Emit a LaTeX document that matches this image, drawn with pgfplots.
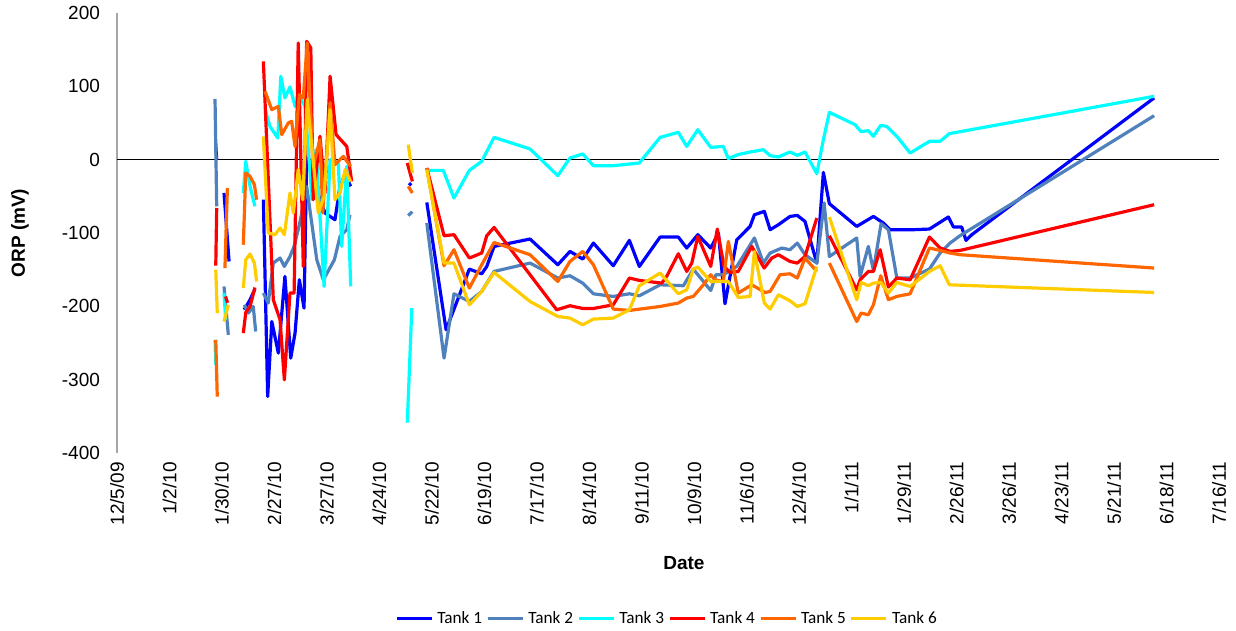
\documentclass[border=0pt]{standalone}
\usepackage{pgfplots}
\pgfplotsset{compat=1.18}
\usepackage{fontspec}
\setmainfont{Liberation Sans}
\newfontfamily\carlito{Carlito}
\definecolor{t1}{RGB}{0,0,255}
\definecolor{t2}{RGB}{79,129,189}
\definecolor{t3}{RGB}{0,255,255}
\definecolor{t4}{RGB}{255,0,0}
\definecolor{t5}{RGB}{255,102,0}
\definecolor{t6}{RGB}{255,204,0}
\begin{document}
\begin{tikzpicture}
\begin{axis}[
  scale only axis, width=551pt, height=220pt,
  xmin=0, xmax=588, ymin=-400, ymax=200,
  axis x line*=bottom, x axis line style={draw=none},
  axis y line*=left, y axis line style={draw=gray!70, line width=0.6pt, -},
  major tick length=0pt,
  xtick={0,28,...,588},
  xticklabels={12/5/09,1/2/10,1/30/10,2/27/10,3/27/10,4/24/10,5/22/10,6/19/10,7/17/10,8/14/10,9/11/10,10/9/10,11/6/10,12/4/10,1/1/11,1/29/11,2/26/11,3/26/11,4/23/11,5/21/11,6/18/11,7/16/11},
  xticklabel style={rotate=90, anchor=east, font=\fontsize{9.5}{11}\selectfont, xshift=-1pt},
  ytick={-400,-300,-200,-100,0,100,200},
  yticklabels={-400,-300,-200,-100,0,100,200},
  yticklabel style={font=\fontsize{9.5}{11}\selectfont, xshift=-5pt},
  extra y ticks={0}, extra y tick labels={},
  extra y tick style={grid=major, major grid style={black, line width=0.6pt}},
  xlabel={\textbf{Date}}, ylabel={\textbf{ORP (mV)}},
  xlabel style={at={(axis description cs:0.5145,-0.25)}, anchor=center, font=\fontsize{9.5}{11}\selectfont},
  ylabel style={at={(axis description cs:-0.088,0.5)}, anchor=center, font=\fontsize{9.5}{11}\selectfont},
  unbounded coords=jump,
  every axis plot/.append style={line width=1.6pt, line join=round, mark=none},
  legend style={at={(axis description cs:0.5,-0.377)}, anchor=center, draw=none,
    font=\carlito\fontsize{8.6}{10}\selectfont, legend columns=6,
    /tikz/every even column/.append style={column sep=0pt},
    nodes={inner xsep=2pt},
    inner sep=0pt},
  legend image code/.code={\draw[#1, line width=1.6pt] (0pt,0pt) -- (17.5pt,0pt);},
]
\addplot[t1] coordinates {
(52.6,22.8) (53.2,0) (53.2,nan)
(57.1,-45.4) (59.8,-138.8) (59.8,nan)
(67.8,-204.7) (71.0,-191.0) (73.6,-176.4) (73.6,nan)
(78.1,-54.6) (80.4,-323.0) (82.6,-220.7) (86.1,-263.8) (89.6,-159.2) (92.7,-270.6) (95.0,-236.5) (97.3,-163.8) (99.8,-202.4) (101.2,4.5) (108.3,-54.6) (111.0,-72.7) (116.3,-81.9) (119.0,-36.4) (121.7,-20.5) (124.7,-36.4) (124.7,nan)
(155.8,-32) (157.0,-35) (157.0,nan)
(165.3,-58.3) (175.6,-232.0) (188.0,-149.2) (194.6,-155.6) (197.3,-145.6) (201.2,-118.3) (220.4,-108.2) (235.2,-143.3) (241.7,-125.1) (248.5,-135.5) (254.2,-113.7) (264.8,-144.6) (273.4,-110.1) (278.7,-145.6) (289.8,-105.5) (299.5,-105.5) (304.0,-120.5) (309.9,-102.3) (316.8,-120.5) (320.9,-100.0) (324.4,-196.5) (330.7,-109.2) (337.8,-91.0) (340.1,-75.1) (345.4,-70.5) (348.5,-95.5) (352.9,-88.7) (359.1,-77.4) (363.0,-76.0) (367.1,-84.2) (373.4,-141.0) (376.9,-17.3) (380.1,-60.0) (394.7,-91.0) (403.6,-77.4) (408.9,-86.4) (412.5,-95.5) (424.9,-95.5) (433.5,-94.6) (443.6,-78.2) (446.3,-91.8) (450.7,-91.8) (453.0,-110.1) (456.1,-102.3) (553.4,84.2)
};
\addlegendentry{Tank 1}
\addplot[t2] coordinates {
(52.3,82.8) (53.2,-63.7) (53.2,nan)
(57.1,-172.9) (59.4,-238.8) (59.4,nan)
(67.9,-197.9) (70.1,-209.2) (72.7,-200.2) (74.0,-234.3) (74.0,nan)
(78.1,-181.9) (80.7,-195.5) (83.4,-141.0) (87.0,-134.1) (89.3,-145.6) (92.3,-132.0) (94.5,-118.3) (97.1,-91.0) (99.4,-63.7) (101.2,-36.4) (106.6,-136.5) (110.1,-163.8) (116.0,-136.5) (119.0,-104.7) (122.6,-95.5) (124.3,-75.1) (124.3,nan)
(155.4,-76.4) (157.5,-70.9) (157.5,nan)
(165.3,-86.4) (174.5,-270.6) (179.8,-182.9) (188.0,-193.4) (194.6,-179.7) (201.2,-152.4) (220.4,-141.0) (235.2,-161.4) (241.7,-158.3) (248.5,-168.3) (254.2,-182.9) (264.8,-186.5) (273.4,-182.9) (278.7,-185.6) (289.8,-170.6) (302.2,-171.9) (307.5,-149.2) (316.8,-178.4) (319.6,-156.9) (323.5,-156.9) (330.7,-145.6) (340.1,-106.8) (344.9,-141.0) (348.5,-127.3) (354.7,-120.5) (359.1,-122.8) (363.0,-113.7) (367.1,-129.6) (373.4,-141.0) (377.3,-59.1) (380.1,-132.0) (394.7,-106.8) (396.5,-159.2) (400.9,-118.3) (403.6,-151.1) (407.7,-87.3) (411.6,-95.5) (416.1,-161.4) (423.2,-161.4) (433.5,-149.2) (439.2,-127.3) (444.5,-113.7) (449.8,-103.7) (553.4,60.0)
};
\addlegendentry{Tank 2}
\addplot[t3] coordinates {
(52.3,-245.6) (52.7,-279.7) (52.7,nan)
(57.1,-181.9) (58.0,-218.3) (58.0,nan)
(67.4,-45.4) (68.7,-2.3) (71.0,-36.4) (73.6,-63.7) (73.6,nan)
(79.0,68.2) (81.6,45.4) (85.8,29.6) (87.4,113.7) (89.6,84.2) (92.3,99.2) (95.0,72.7) (97.3,86.4) (100.3,72.7) (104.1,-54.6) (106.2,13.6) (110.5,-172.9) (113.7,0) (118.1,-4.5) (119.9,-118.3) (122.6,-9.1) (124.7,-172.9) (124.7,nan)
(154.9,-358.5) (157.3,-202.4) (157.3,nan)
(165.3,-14.6) (174.1,-14.6) (179.8,-52.3) (188.0,-14.6) (194.6,-2.3) (201.2,30.4) (220.4,14.6) (235.2,-21.8) (241.7,2.3) (248.5,7.8) (254.2,-8.2) (264.8,-8.2) (278.7,-4.5) (289.8,30.4) (299.5,37.3) (304.0,18.1) (309.9,40.9) (316.8,16.8) (323.5,18.1) (326.2,1.4) (331.2,6.8) (337.8,10.5) (344.9,13.6) (348.5,5.5) (352.9,3.7) (359.1,10.5) (363.0,5.9) (367.1,10.5) (373.4,-19.1) (376.9,27.3) (380.1,64.5) (393.8,47.8) (397.0,38.2) (400.9,39.6) (403.6,31.8) (407.5,46.8) (410.7,45.4) (416.1,31.8) (423.2,9.1) (433.5,25.0) (439.2,25.0) (444.1,35.5) (553.4,86.4)
};
\addlegendentry{Tank 3}
\addplot[t4] coordinates {
(52.7,-144.6) (53.2,-65.9) (53.2,nan)
(57.9,-186.5) (59.0,-195.1) (59.0,nan)
(67.4,-236.5) (68.7,-208.4) (71.0,-200.2) (73.6,-174.3) (73.6,nan)
(78.1,134.1) (83.4,-191.0) (87.0,-218.3) (89.3,-300.2) (92.3,-181.9) (94.5,-181.9) (96.7,159.2) (99.4,-145.6) (101.2,161.4) (103.4,152.4) (104.7,-54.6) (108.3,31.8) (111.0,-45.4) (113.7,113.7) (116.9,34.1) (122.6,18.1) (125.2,-29.6) (125.2,nan)
(154.9,-4.5) (157.6,-29.6) (157.6,nan)
(165.3,-11.3) (174.5,-103.7) (179.8,-102.3) (188.0,-134.1) (194.6,-127.3) (197.3,-103.7) (201.2,-92.4) (234.6,-204.7) (241.7,-199.2) (248.5,-202.9) (254.2,-202.9) (264.8,-197.9) (273.4,-161.4) (278.7,-164.7) (290.7,-168.3) (293.3,-159.2) (299.5,-128.3) (304.0,-152.4) (306.7,-141.0) (309.9,-104.7) (316.8,-145.6) (320.3,-94.6) (323.9,-145.6) (327.1,-153.8) (331.5,-152.4) (338.7,-118.3) (345.3,-147.8) (349.4,-134.1) (352.9,-129.6) (359.1,-138.8) (363.0,-141.0) (367.1,-132.0) (373.4,-79.6) (373.4,nan)
(380.1,-103.7) (394.7,-177.4) (396.5,-163.8) (400.9,-152.4) (403.6,-152.4) (407.2,-122.8) (411.6,-173.7) (416.1,-161.4) (423.2,-163.8) (433.5,-105.5) (439.2,-120.5) (444.5,-125.1) (449.8,-123.8) (553.4,-61.4)
};
\addlegendentry{Tank 4}
\addplot[t5] coordinates {
(52.7,-245.6) (53.5,-323.0) (53.5,nan)
(57.6,-147.8) (58.9,-38.6) (58.9,nan)
(67.4,-116.0) (68.7,-18.1) (71.0,-22.8) (73.3,-34.1) (74.5,-54.6) (74.5,nan)
(79.0,93.2) (82.6,68.2) (86.1,72.7) (87.9,34.1) (91.4,50.1) (93.2,52.3) (95.0,18.1) (97.3,88.7) (99.4,84.2) (101.5,159.2) (104.7,-9.1) (108.3,27.3) (109.8,-72.7) (113.7,77.4) (116.3,-6.8) (120.8,4.5) (124.7,-9.1) (124.7,nan)
(155.4,-36.4) (157.6,-45.4) (157.6,nan)
(165.3,-11.3) (174.5,-144.6) (179.8,-122.8) (188.0,-175.1) (194.6,-143.3) (201.2,-112.9) (220.4,-129.6) (235.2,-166.1) (241.7,-138.8) (248.5,-125.1) (254.2,-143.3) (264.8,-203.7) (273.4,-205.6) (289.8,-200.2) (299.5,-195.5) (304.0,-188.7) (307.5,-186.5) (312.9,-170.6) (316.8,-156.9) (319.1,-163.8) (323.5,-166.1) (326.2,-111.5) (331.5,-181.9) (338.7,-170.6) (345.8,-181.1) (348.5,-179.7) (353.8,-156.9) (359.1,-155.6) (363.0,-161.4) (367.1,-134.1) (373.4,-152.4) (373.4,nan)
(380.1,-141.0) (394.7,-220.7) (397.0,-209.2) (400.9,-211.5) (403.6,-197.9) (407.5,-158.3) (411.6,-191.0) (416.1,-186.5) (423.2,-182.9) (433.5,-120.5) (439.2,-123.8) (444.5,-127.3) (449.8,-129.6) (553.4,-147.8)
};
\addlegendentry{Tank 5}
\addplot[t6] coordinates {
(52.7,-150.1) (53.5,-209.2) (53.5,nan)
(57.1,-220.7) (59.4,-197.9) (59.4,nan)
(67.4,-175.1) (68.7,-136.5) (71.0,-128.7) (73.3,-141.0) (74.5,-166.1) (74.5,nan)
(78.1,31.8) (80.7,-100.0) (84.3,-102.3) (87.0,-93.2) (89.3,-102.3) (92.3,-45.4) (94.1,-72.7) (96.7,-13.6) (99.1,-54.6) (101.5,81.9) (107.4,-72.7) (110.5,-50.0) (113.7,68.2) (116.3,-54.6) (119.0,-45.4) (121.7,-13.6) (124.7,-29.6) (124.7,nan)
(155.4,20.5) (157.6,-18.1) (157.6,nan)
(165.3,-13.6) (174.5,-141.0) (179.8,-141.0) (188.0,-197.9) (194.6,-179.7) (201.2,-153.8) (220.4,-193.4) (235.2,-213.8) (241.7,-216.0) (248.5,-225.2) (254.2,-217.4) (264.8,-216.0) (273.4,-204.7) (278.7,-171.9) (289.8,-154.6) (299.5,-182.9) (304.0,-177.4) (307.5,-149.2) (309.9,-146.4) (316.8,-166.1) (326.2,-166.1) (331.5,-187.9) (337.8,-186.5) (340.1,-125.1) (345.4,-195.5) (348.5,-203.7) (352.9,-184.2) (359.1,-192.4) (363.0,-200.2) (367.1,-196.5) (373.4,-145.6) (373.4,nan)
(380.1,-78.2) (394.7,-191.0) (397.0,-167.4) (400.9,-171.9) (403.6,-168.3) (407.5,-167.4) (411.6,-181.9) (416.1,-167.4) (423.2,-172.9) (433.5,-152.4) (439.2,-144.6) (444.1,-170.6) (553.4,-181.1)
};
\addlegendentry{Tank 6}
\end{axis}
\pgfresetboundingbox
\path[use as bounding box] (-58.5pt,-89pt) rectangle (559.5pt,226.5pt);
\end{tikzpicture}
\end{document}
